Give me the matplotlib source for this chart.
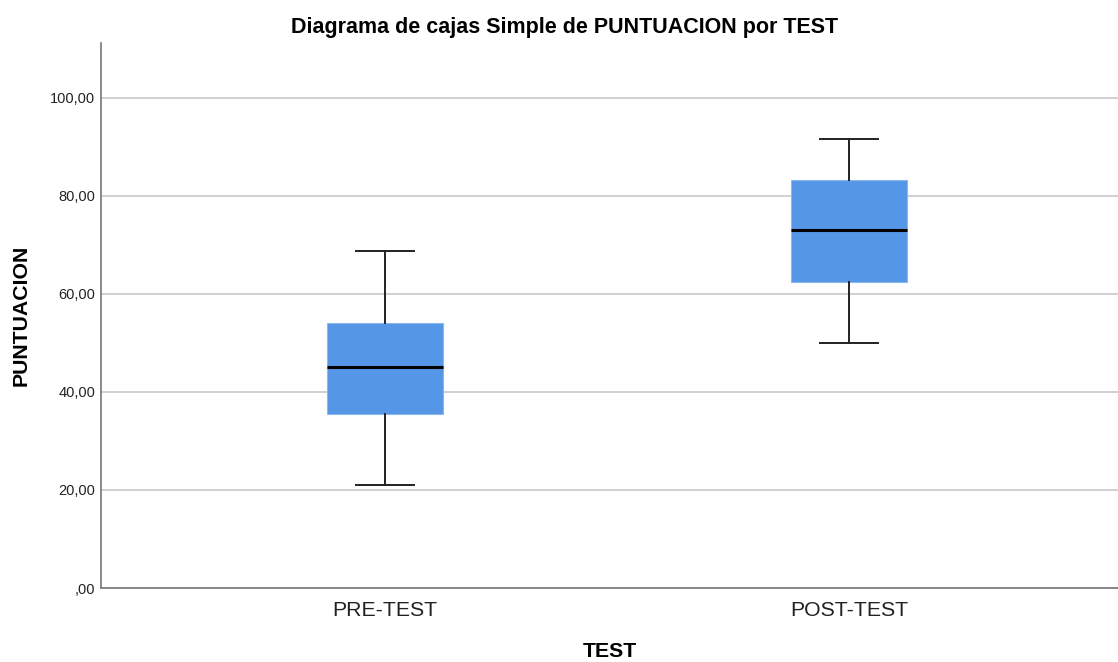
import matplotlib
matplotlib.use('Agg')
import matplotlib.pyplot as plt
from matplotlib.ticker import FuncFormatter

# datos (minimo, Q1, mediana, Q3, maximo)
grupos = ['PRE-TEST', 'POST-TEST']
minimos = [21.0, 50.0]
q1s = [35.5, 62.5]
medianas = [45.0, 73.0]
q3s = [54.0, 83.2]
maximos = [68.8, 91.7]

plt.rcParams['font.family'] = ['Liberation Sans', 'DejaVu Sans']

fig = plt.figure(figsize=(11.18, 6.62), dpi=100)
ax = fig.add_axes([101/1118, 1 - 588/662, 1 - 101/1118, (588 - 43)/662])

stats = []
for i in range(len(grupos)):
    stats.append({'label': grupos[i], 'whislo': minimos[i], 'q1': q1s[i],
                  'med': medianas[i], 'q3': q3s[i], 'whishi': maximos[i],
                  'fliers': []})

ax.bxp(stats, positions=[1, 2], widths=0.25, patch_artist=True,
       showfliers=False, zorder=3,
       boxprops=dict(facecolor='#5596e6', edgecolor='#8ab8ef', linewidth=0.8),
       medianprops=dict(color='black', linewidth=2.2),
       whiskerprops=dict(color='#222222', linewidth=1.4),
       capprops=dict(color='#222222', linewidth=1.4),
       capwidths=0.125)

ax.set_xlim(0.387, 2.58)
ax.set_ylim(0, 111.2)
ax.set_yticks([0, 20, 40, 60, 80, 100])
ax.yaxis.set_major_formatter(FuncFormatter(
    lambda v, p: ',00' if v == 0 else ('%d,00' % v)))
ax.grid(axis='y', color='#c8c8c8', linewidth=1.2, zorder=0)
ax.set_axisbelow(True)

for s in ['top', 'right']:
    ax.spines[s].set_visible(False)
ax.spines['left'].set_color('#777777')
ax.spines['bottom'].set_color('#777777')
ax.spines['left'].set_linewidth(1.2)
ax.spines['bottom'].set_linewidth(1.2)
ax.tick_params(axis='both', length=0)
ax.tick_params(axis='y', labelsize=10.5, pad=4, colors='#222222')
ax.set_xticks([1, 2])
ax.set_xticklabels(grupos, fontsize=15.3)
ax.tick_params(axis='x', pad=9, colors='#222222')

fig.text(565/1118, 1 - 28/662, 'Diagrama de cajas Simple de PUNTUACION por TEST',
         fontsize=15.5, fontweight='bold', ha='center', va='center')
ax.set_ylabel('PUNTUACION', fontsize=15.3, fontweight='bold', labelpad=14)
ax.set_xlabel('TEST', fontsize=15.3, fontweight='bold', labelpad=16)

fig.savefig('out.png', dpi=100)
